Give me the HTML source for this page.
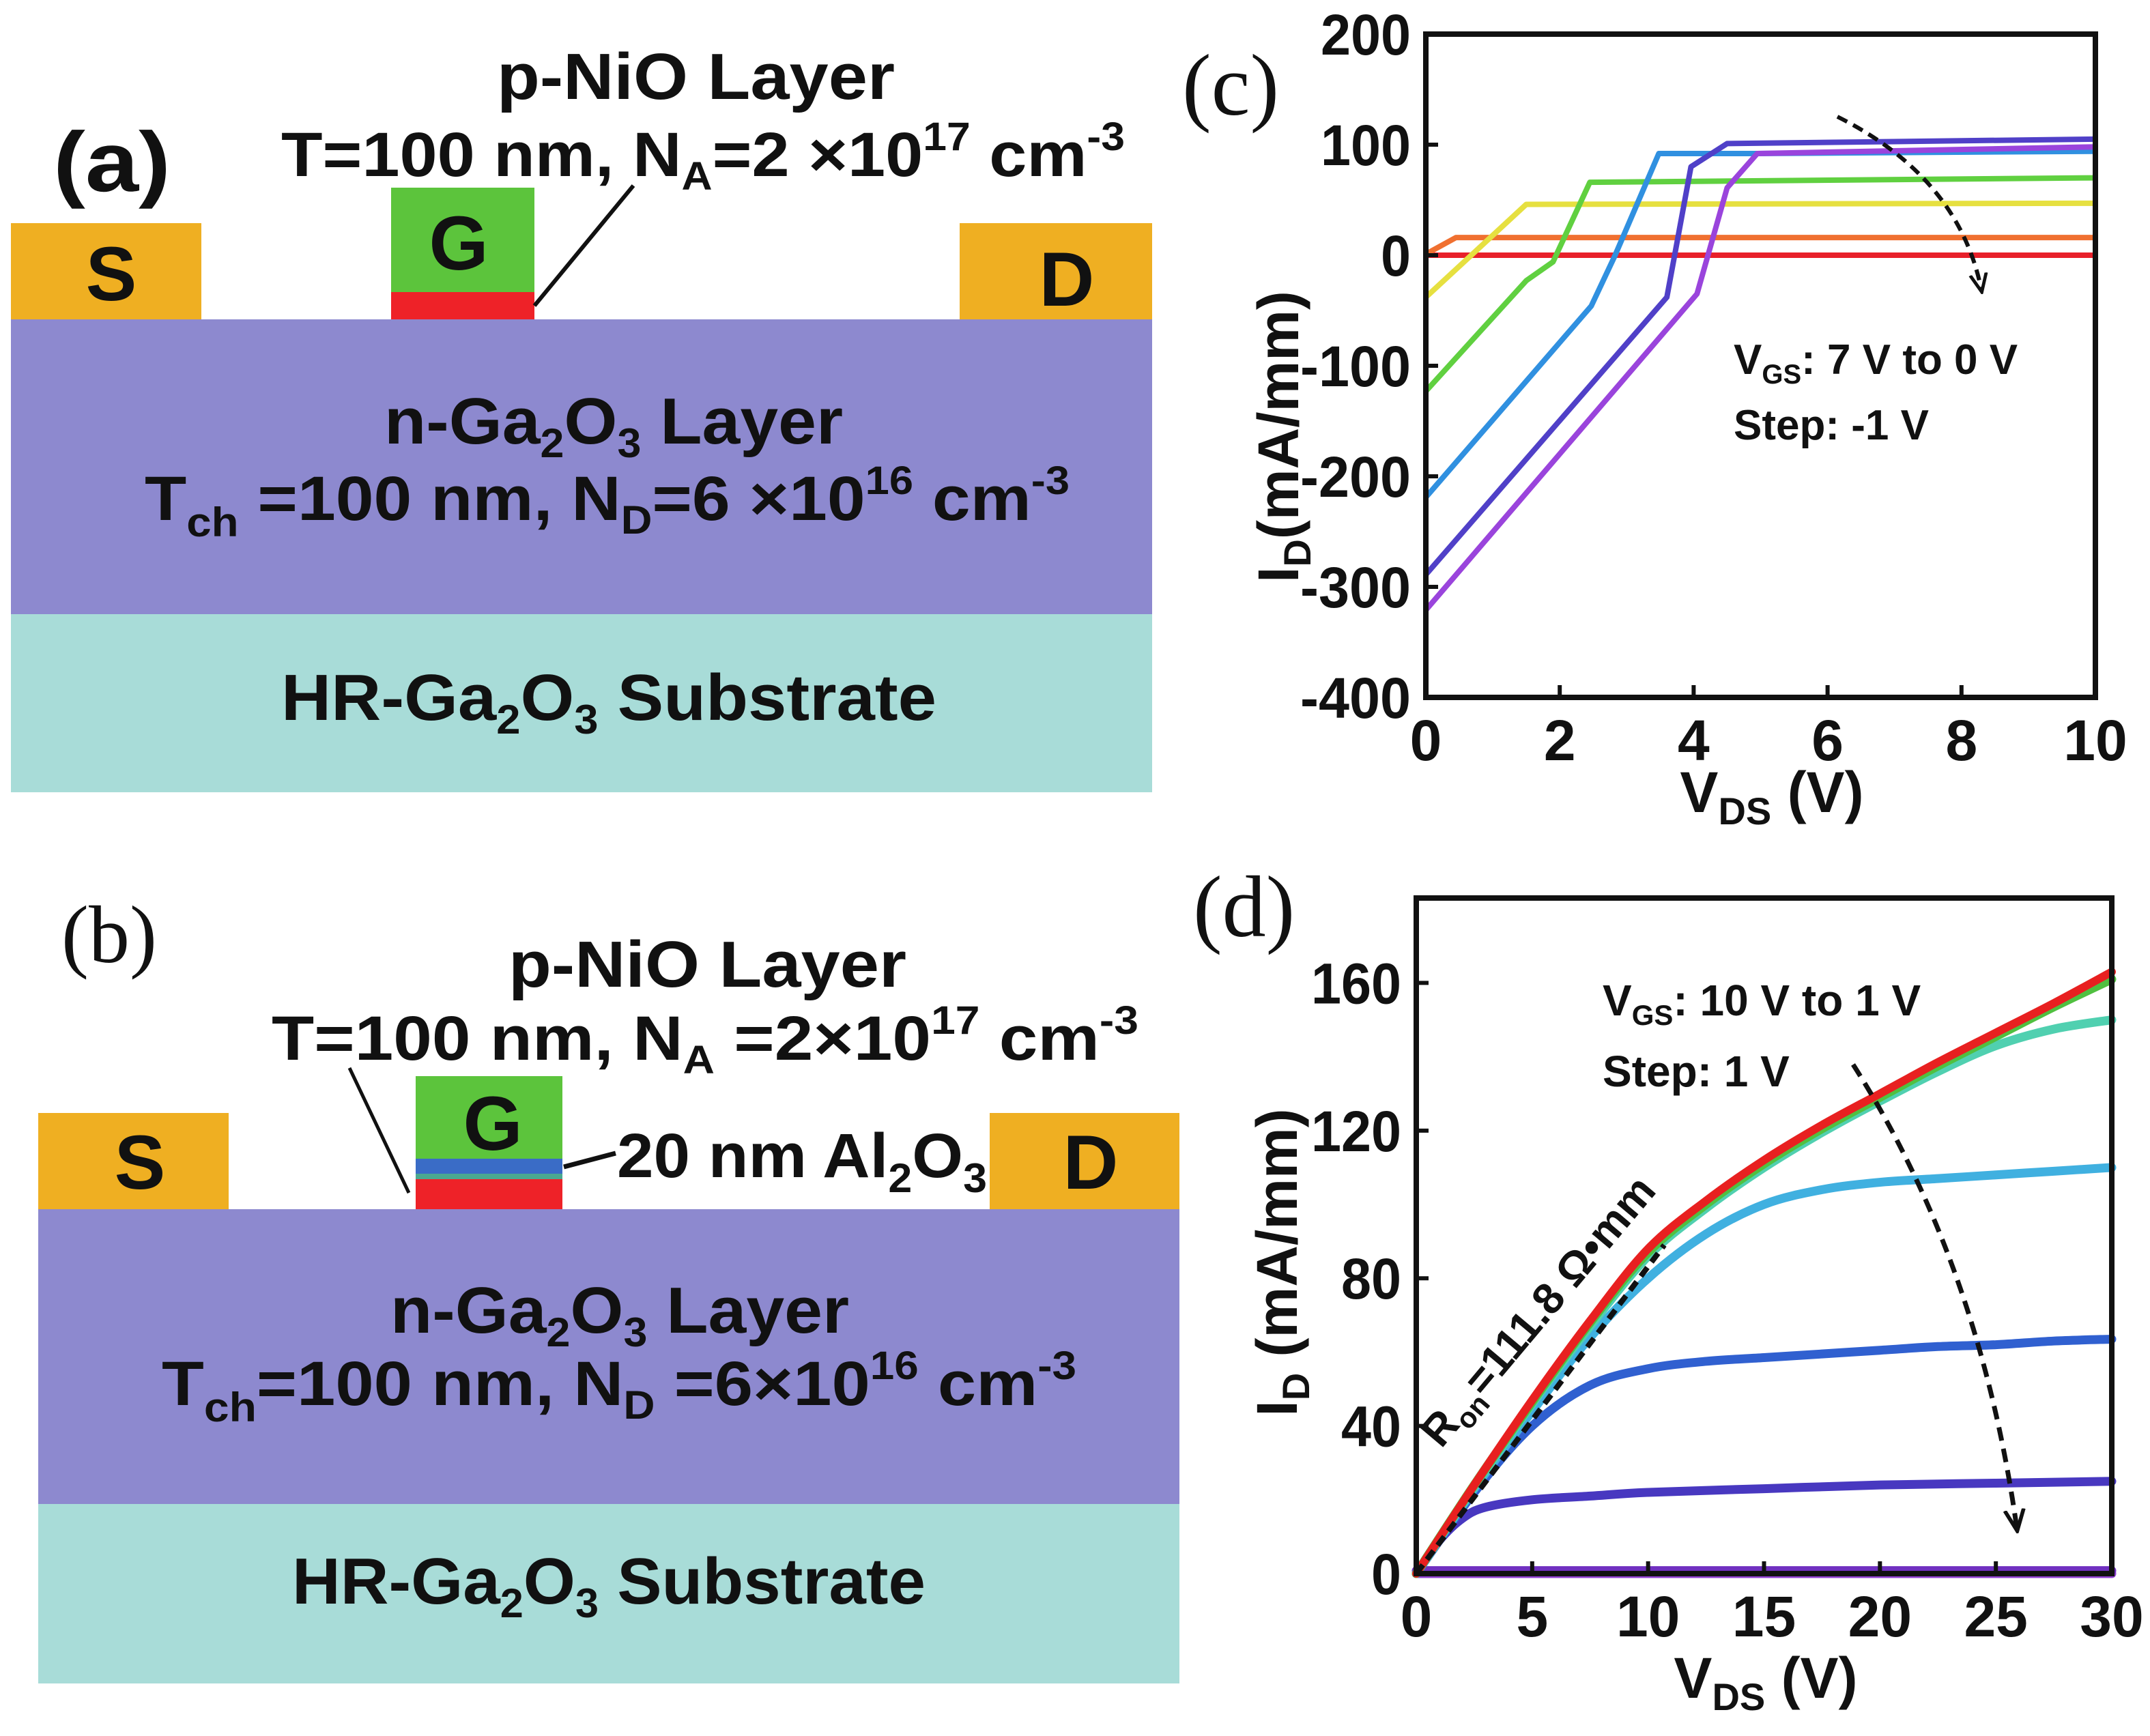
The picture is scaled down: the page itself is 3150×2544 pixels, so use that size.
<!DOCTYPE html>
<html><head><meta charset="utf-8"><style>
html,body{margin:0;padding:0;background:#fff;}
svg{display:block;}
text{font-family:"Liberation Sans",sans-serif;font-weight:bold;fill:#111;}
.serif{font-family:"Liberation Serif",serif;font-weight:normal;}
</style></head><body>
<svg id="fig" width="3150" height="2544" viewBox="0 0 3150 2544" xmlns="http://www.w3.org/2000/svg">
<defs>
<marker id="ah" viewBox="0 0 10 10" refX="8" refY="5" markerWidth="5" markerHeight="5" orient="auto"><path d="M0,1 L9,5 L0,9" fill="none" stroke="#111" stroke-width="1.6"/></marker>
</defs>
<!-- Panel (a) -->
<g>
<rect x="16" y="900" width="1672" height="261" fill="#a8dcd8"/>
<rect x="16" y="468" width="1672" height="432" fill="#8d89cf"/>
<rect x="16" y="327" width="279" height="141" fill="#efaf22"/>
<rect x="1406" y="327" width="282" height="141" fill="#efaf22"/>
<rect x="573" y="275" width="210" height="153" fill="#5cc43c"/>
<rect x="573" y="428" width="210" height="40" fill="#ee2228"/>
<line x1="783" y1="448" x2="928" y2="272" stroke="#111" stroke-width="6"/>
<text x="78" y="280" font-size="124" textLength="172" lengthAdjust="spacingAndGlyphs">(a)</text>
<text x="163" y="440" font-size="112" text-anchor="middle">S</text>
<text x="672" y="395" font-size="112" text-anchor="middle">G</text>
<text x="1563" y="448" font-size="112" text-anchor="middle">D</text>
<text x="728" y="145" font-size="96" textLength="583" lengthAdjust="spacingAndGlyphs">p-NiO Layer</text>
<text x="412" y="258" font-size="92" textLength="1236" lengthAdjust="spacingAndGlyphs">T=100 nm, N<tspan font-size="58" dy="20">A</tspan><tspan dy="-20">=2 ×10</tspan><tspan font-size="58" dy="-38">17</tspan><tspan dy="38"> cm</tspan><tspan font-size="58" dy="-38">-3</tspan></text>
<text x="563" y="650" font-size="96" textLength="672" lengthAdjust="spacingAndGlyphs">n-Ga<tspan font-size="60" dy="20">2</tspan><tspan dy="-20">O</tspan><tspan font-size="60" dy="20">3</tspan><tspan dy="-20">  Layer</tspan></text>
<text x="212" y="762" font-size="92" textLength="1355" lengthAdjust="spacingAndGlyphs">T<tspan font-size="60" dy="24">ch</tspan><tspan dy="-24"> =100 nm, N</tspan><tspan font-size="58" dy="20">D</tspan><tspan dy="-20">=6 ×10</tspan><tspan font-size="58" dy="-38">16</tspan><tspan dy="38">  cm</tspan><tspan font-size="58" dy="-38">-3</tspan></text>
<text x="412" y="1055" font-size="96" textLength="960" lengthAdjust="spacingAndGlyphs">HR-Ga<tspan font-size="60" dy="20">2</tspan><tspan dy="-20">O</tspan><tspan font-size="60" dy="20">3</tspan><tspan dy="-20">  Substrate</tspan></text>
</g>
<!-- Panel (b) -->
<g>
<rect x="56" y="2204" width="1672" height="263" fill="#a8dcd8"/>
<rect x="56" y="1772" width="1672" height="432" fill="#8d89cf"/>
<rect x="56" y="1631" width="279" height="141" fill="#efaf22"/>
<rect x="1450" y="1631" width="278" height="141" fill="#efaf22"/>
<rect x="609" y="1577" width="215" height="121" fill="#5cc43c"/>
<rect x="609" y="1698" width="215" height="22" fill="#3a6cc6"/>
<rect x="609" y="1720" width="215" height="8" fill="#4aa890"/>
<rect x="609" y="1728" width="215" height="44" fill="#ee2228"/>
<line x1="599" y1="1748" x2="512" y2="1565" stroke="#111" stroke-width="5"/>
<line x1="826" y1="1710" x2="902" y2="1690" stroke="#111" stroke-width="7"/>
<text class="serif" x="90" y="1410" font-size="120">(b)</text>
<text x="205" y="1742" font-size="112" text-anchor="middle">S</text>
<text x="722" y="1685" font-size="112" text-anchor="middle">G</text>
<text x="1598" y="1742" font-size="112" text-anchor="middle">D</text>
<text x="745" y="1446" font-size="96" textLength="583" lengthAdjust="spacingAndGlyphs">p-NiO Layer</text>
<text x="398" y="1553" font-size="92" textLength="1270" lengthAdjust="spacingAndGlyphs">T=100 nm, N<tspan font-size="58" dy="20">A</tspan><tspan dy="-20"> =2×10</tspan><tspan font-size="58" dy="-38">17</tspan><tspan dy="38"> cm</tspan><tspan font-size="58" dy="-38">-3</tspan></text>
<text x="904" y="1725" font-size="92" textLength="542" lengthAdjust="spacingAndGlyphs">20 nm Al<tspan font-size="60" dy="22">2</tspan><tspan dy="-22">O</tspan><tspan font-size="60" dy="22">3</tspan></text>
<text x="572" y="1953" font-size="96" textLength="672" lengthAdjust="spacingAndGlyphs">n-Ga<tspan font-size="60" dy="20">2</tspan><tspan dy="-20">O</tspan><tspan font-size="60" dy="20">3</tspan><tspan dy="-20"> Layer</tspan></text>
<text x="237" y="2059" font-size="92" textLength="1340" lengthAdjust="spacingAndGlyphs">T<tspan font-size="60" dy="24">ch</tspan><tspan dy="-24">=100 nm, N</tspan><tspan font-size="58" dy="20">D</tspan><tspan dy="-20"> =6×10</tspan><tspan font-size="58" dy="-38">16</tspan><tspan dy="38"> cm</tspan><tspan font-size="58" dy="-38">-3</tspan></text>
<text x="428" y="2350" font-size="96" textLength="928" lengthAdjust="spacingAndGlyphs">HR-Ga<tspan font-size="60" dy="20">2</tspan><tspan dy="-20">O</tspan><tspan font-size="60" dy="20">3</tspan><tspan dy="-20"> Substrate</tspan></text>
</g>
<g id="chartC"></g>
<g id="chartD"></g>
</svg>
<script>
// ---------- Chart (c) data ----------
const cXTicks = [0, 2, 4, 6, 8, 10];
const cYTicks = [200, 100, 0, -100, -200, -300, -400];
const cColors = ['#e8202a', '#f07030', '#e6e040', '#60d040', '#3090e0', '#5040c8', '#9a44dc'];
const cVgs0x = [0, 10];
const cVgs0y = [0, 0];
const cVgs1x = [0, 0.45, 10];
const cVgs1y = [1, 16, 16];
const cVgs2x = [0, 1.5, 10];
const cVgs2y = [-38, 46, 47];
const cVgs3x = [0, 1.5, 1.9, 2.45, 10];
const cVgs3y = [-123, -23, -6, 66, 70];
const cVgs4x = [0, 2.47, 2.82, 3.48, 4.9, 10];
const cVgs4y = [-219, -46, -1, 92, 92, 94];
const cVgs5x = [0, 3.6, 3.96, 4.5, 10];
const cVgs5y = [-289, -38, 80, 101, 105];
const cVgs6x = [0, 4.05, 4.5, 4.95, 10];
const cVgs6y = [-321, -35, 61, 92, 98];
const cSeriesX = [cVgs0x, cVgs1x, cVgs2x, cVgs3x, cVgs4x, cVgs5x, cVgs6x];
const cSeriesY = [cVgs0y, cVgs1y, cVgs2y, cVgs3y, cVgs4y, cVgs5y, cVgs6y];

// ---------- Chart (d) data ----------
const dXTicks = [0, 5, 10, 15, 20, 25, 30];
const dYTicks = [0, 40, 80, 120, 160];
const dColors = ['#e82020', '#50c040', '#50d0b0', '#40b0e0', '#3060d0', '#4838c0', '#7030c0', '#9040d0'];
const dGridX = [0, 2.5, 5, 7.5, 10, 12.5, 15, 17.5, 20, 22.5, 25, 27.5, 30];
const dV10y = [0, 24, 47, 68.5, 88, 101, 112, 121.5, 130, 138.5, 146.5, 154.5, 163];
const dV9y = [0, 24, 46.5, 68, 87, 100, 111, 120.5, 129, 137.5, 145.5, 153.5, 161];
const dV8y = [0, 23.5, 46, 67, 86, 99, 110, 119.5, 128, 136, 143, 147.5, 150];
const dV7y = [0, 23, 44, 64, 80, 92, 100, 104, 106, 107, 108, 109, 110];
const dV6y = [0, 22, 40, 51, 55.5, 57.5, 58.5, 59.5, 60.5, 61.5, 62, 63, 63.5];
const dV5x = [0, 1, 2, 3, 5, 7.5, 10, 15, 20, 25, 30];
const dV5y = [0, 9, 15, 18, 20, 21, 22, 23, 24, 24.5, 25];
const dV2x = [0, 30];
const dV2y = [0.8, 0.8];
const dV1x = [0, 30];
const dV1y = [0, 0];
const dSeriesX = [dGridX, dGridX, dGridX, dGridX, dGridX, dV5x, dV2x, dV1x];
const dSeriesY = [dV10y, dV9y, dV8y, dV7y, dV6y, dV5y, dV2y, dV1y];
const dRonX = [0, 10.7];
const dRonY = [0, 89];

const NS = 'http://www.w3.org/2000/svg';
function mk(parent, tag, attrs) {
  const e = document.createElementNS(NS, tag);
  for (const k in attrs) e.setAttribute(k, attrs[k]);
  parent.appendChild(e);
  return e;
}
function smoothPath(pts) {
  let d = 'M' + pts[0][0] + ',' + pts[0][1];
  for (let i = 0; i < pts.length - 1; i++) {
    const p0 = pts[Math.max(0, i - 1)], p1 = pts[i], p2 = pts[i + 1], p3 = pts[Math.min(pts.length - 1, i + 2)];
    const c1 = [p1[0] + (p2[0] - p0[0]) / 6, p1[1] + (p2[1] - p0[1]) / 6];
    const c2 = [p2[0] - (p3[0] - p1[0]) / 6, p2[1] - (p3[1] - p1[1]) / 6];
    d += ' C' + c1[0] + ',' + c1[1] + ' ' + c2[0] + ',' + c2[1] + ' ' + p2[0] + ',' + p2[1];
  }
  return d;
}
function labelWidth(v) {
  const s = String(v);
  let w = 0;
  for (const ch of s) w += ch === '-' ? 30 : 44;
  return w;
}

// ----- Chart C -----
(function () {
  const g = document.getElementById('chartC');
  const L = 2089, R = 3070, T = 50, B = 1022;
  const xmin = 0, xmax = 10, ymin = -400, ymax = 200;
  const X = v => L + (v - xmin) / (xmax - xmin) * (R - L);
  const Y = v => B - (v - ymin) / (ymax - ymin) * (B - T);
  const lbl = mk(g, 'text', { x: 1732, y: 168, 'font-size': 128, class: 'serif' });
  
  
  lbl.textContent = '(c)';
  for (let i = 0; i < cSeriesX.length; i++) {
    const pts = cSeriesX[i].map((x, j) => X(x) + ',' + Y(cSeriesY[i][j]));
    const p = mk(g, 'polyline', { points: pts.join(' '), fill: 'none', stroke: cColors[i], 'stroke-width': 8, 'stroke-linejoin': 'round' });
    
    
  }
  const frame = mk(g, 'rect', { x: L, y: T, width: R - L, height: B - T, fill: 'none', stroke: '#111', 'stroke-width': 8 });
  
  
  cXTicks.forEach(v => {
    mk(g, 'line', { x1: X(v), y1: B, x2: X(v), y2: B - 18, stroke: '#111', 'stroke-width': 6 });
    const t = mk(g, 'text', { x: X(v), y: B + 92, 'font-size': 84, 'text-anchor': 'middle' });
    
    
    t.textContent = v;
  });
  cYTicks.forEach(v => {
    mk(g, 'line', { x1: L, y1: Y(v), x2: L + 18, y2: Y(v), stroke: '#111', 'stroke-width': 6 });
    const w = labelWidth(v);
    const t = mk(g, 'text', { x: L - 22 - w, y: Y(v) + 30, 'font-size': 84, textLength: w, lengthAdjust: 'spacingAndGlyphs' });
    
    
    t.textContent = v;
  });
  const xt = mk(g, 'text', { x: 2596, y: 1190, 'font-size': 84, 'text-anchor': 'middle' });
  
  
  xt.innerHTML = 'V<tspan font-size="56" dy="18">DS</tspan><tspan dy="-18"> (V)</tspan>';
  const yt = mk(g, 'text', { x: 0, y: 0, 'font-size': 84, 'text-anchor': 'middle', transform: 'translate(1902,640) rotate(-90)' });
  
  
  yt.innerHTML = 'I<tspan font-size="56" dy="18">D</tspan><tspan dy="-18">(mA/mm)</tspan>';
  const ar = mk(g, 'path', { d: 'M2692,171 Q2870,260 2903,425', fill: 'none', stroke: '#111', 'stroke-width': 6, 'stroke-dasharray': '16 10', 'marker-end': 'url(#ah)' });
  
  
  const a1 = mk(g, 'text', { x: 2540, y: 548, 'font-size': 62 });
  
  
  a1.innerHTML = 'V<tspan font-size="40" dy="14">GS</tspan><tspan dy="-14">: 7 V to 0 V</tspan>';
  const a2 = mk(g, 'text', { x: 2540, y: 644, 'font-size': 62 });
  
  
  a2.textContent = 'Step: -1 V';
})();

// ----- Chart D -----
(function () {
  const g = document.getElementById('chartD');
  const L = 2075, R = 3094, T = 1316, B = 2306;
  const xmin = 0, xmax = 30, ymin = 0, ymax = 183;
  const X = v => L + (v - xmin) / (xmax - xmin) * (R - L);
  const Y = v => B - (v - ymin) / (ymax - ymin) * (B - T);
  const lbl = mk(g, 'text', { x: 1748, y: 1372, 'font-size': 128, class: 'serif' });
  
  
  lbl.textContent = '(d)';
  for (let i = dSeriesX.length - 1; i >= 0; i--) {
    const pts = dSeriesX[i].map((x, j) => [X(x), Y(dSeriesY[i][j])]);
    const p = mk(g, 'path', { d: smoothPath(pts), fill: 'none', stroke: dColors[i], 'stroke-width': i === 0 ? 12 : 13, 'stroke-linecap': 'round' });
    
    
  }
  const ron = mk(g, 'line', { x1: X(dRonX[0]), y1: Y(dRonY[0]), x2: X(dRonX[1]), y2: Y(dRonY[1]), stroke: '#111', 'stroke-width': 8, 'stroke-dasharray': '16 10' });
  
  
  const frame = mk(g, 'rect', { x: L, y: T, width: R - L, height: B - T, fill: 'none', stroke: '#111', 'stroke-width': 8 });
  
  
  dXTicks.forEach(v => {
    mk(g, 'line', { x1: X(v), y1: B, x2: X(v), y2: B - 18, stroke: '#111', 'stroke-width': 6 });
    const t = mk(g, 'text', { x: X(v), y: B + 92, 'font-size': 84, 'text-anchor': 'middle' });
    
    
    t.textContent = v;
  });
  dYTicks.forEach(v => {
    mk(g, 'line', { x1: L, y1: Y(v), x2: L + 18, y2: Y(v), stroke: '#111', 'stroke-width': 6 });
    const w = labelWidth(v);
    const t = mk(g, 'text', { x: L - 22 - w, y: Y(v) + 30, 'font-size': 84, textLength: w, lengthAdjust: 'spacingAndGlyphs' });
    
    
    t.textContent = v;
  });
  const xt = mk(g, 'text', { x: 2587, y: 2488, 'font-size': 84, 'text-anchor': 'middle' });
  
  
  xt.innerHTML = 'V<tspan font-size="56" dy="18">DS</tspan><tspan dy="-18"> (V)</tspan>';
  const yt = mk(g, 'text', { x: 0, y: 0, 'font-size': 84, 'text-anchor': 'middle', transform: 'translate(1900,1850) rotate(-90)' });
  
  
  yt.innerHTML = 'I<tspan font-size="56" dy="18">D</tspan><tspan dy="-18"> (mA/mm)</tspan>';
  const ar = mk(g, 'path', { d: 'M2715,1560 Q2900,1850 2955,2240', fill: 'none', stroke: '#111', 'stroke-width': 7, 'stroke-dasharray': '20 12', 'marker-end': 'url(#ah)' });
  
  
  const a1 = mk(g, 'text', { x: 2348, y: 1488, 'font-size': 64 });
  
  
  a1.innerHTML = 'V<tspan font-size="42" dy="14">GS</tspan><tspan dy="-14">: 10 V to 1 V</tspan>';
  const a2 = mk(g, 'text', { x: 2348, y: 1592, 'font-size': 64 });
  
  
  a2.textContent = 'Step: 1 V';
  const rt = mk(g, 'text', { x: 0, y: 0, 'font-size': 64, 'text-anchor': 'middle', transform: 'translate(2270,1935) rotate(-50)' });
  
  
  rt.innerHTML = 'R<tspan font-size="42" dy="14">on</tspan><tspan dy="-14">=111.8 Ω•mm</tspan>';
})();
</script>
</body></html>
